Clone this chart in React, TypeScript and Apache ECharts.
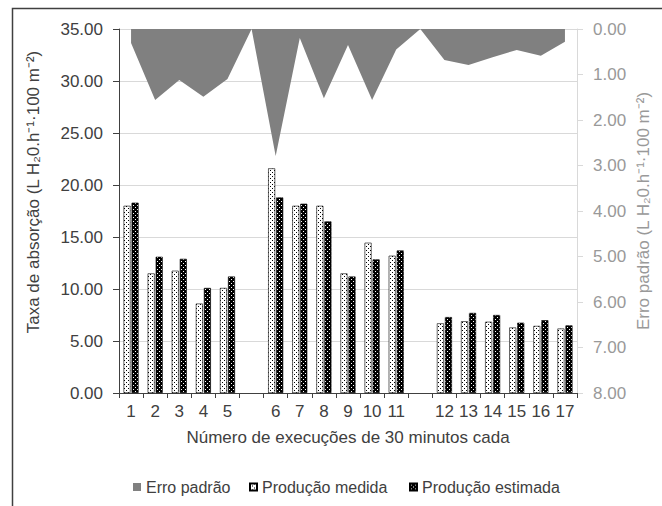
import React, { useEffect, useRef } from "react";
import * as echarts from "echarts";

const categories = ["1", "2", "3", "4", "5", " ", "6", "7", "8", "9", "10", "11", "  ", "12", "13", "14", "15", "16", "17"];
const erroPadrao = [0.31, 1.56, 1.12, 1.49, 1.1, 0, 2.79, 0.2, 1.52, 0.35, 1.56, 0.45, 0, 0.68, 0.79, 0.62, 0.46, 0.59, 0.28];
const producaoMedida = [18.0, 11.5, 11.76, 8.6, 10.1, null, 21.6, 18.0, 18.0, 11.5, 14.45, 13.2, null, 6.7, 6.9, 6.85, 6.3, 6.45, 6.2];
const producaoEstimada = [18.3, 13.1, 12.9, 10.1, 11.2, null, 18.8, 18.2, 16.5, 11.2, 12.85, 13.7, null, 7.3, 7.7, 7.5, 6.76, 7.0, 6.5];
const leftTicks = { min: 0, max: 35, interval: 5 };
const rightTicks = { min: 0, max: 8, interval: 1 };

const FONT = '"Liberation Sans", Arial, sans-serif';

function makePattern(bg: string, fg: string, pts: number[][]) {
  const c = document.createElement("canvas");
  c.width = 4;
  c.height = 4;
  const ctx = c.getContext("2d")!;
  ctx.fillStyle = bg;
  ctx.fillRect(0, 0, 4, 4);
  ctx.fillStyle = fg;
  pts.forEach(([x, y]) => ctx.fillRect(x, y, 1, 1));
  return c;
}

export default function App() {
  const ref = useRef<HTMLDivElement>(null);
  useEffect(() => {
    if (!ref.current) return;
    const chart = echarts.init(ref.current, undefined, { renderer: "svg" });
    const medidaPat = makePattern("#ffffff", "#000000", [[0, 0], [2, 2]]);
    const estimadaPat = makePattern("#000000", "#ffffff", [[1, 1], [3, 3]]);
    const legendBase = {
      orient: "horizontal",
      top: 479,
      padding: 0,
      icon: "rect",
      itemWidth: 7,
      itemHeight: 7,
      textStyle: { fontFamily: FONT, fontSize: 16, color: "#404040" },
    };
    chart.setOption({
      animation: false,
      textStyle: { fontFamily: FONT },
      grid: { left: 119, right: 85, top: 29, bottom: 113, containLabel: false },
      legend: [
        { ...legendBase, left: 133, itemWidth: 8, itemHeight: 8, data: ["Erro padrão"] },
        { ...legendBase, left: 249, data: ["Produção medida"] },
        { ...legendBase, left: 409, data: ["Produção estimada"] },
      ],
      xAxis: {
        type: "category",
        data: categories,
        boundaryGap: true,
        axisLine: { lineStyle: { color: "#404040", width: 1 } },
        axisTick: { show: true, length: 5, lineStyle: { color: "#404040" } },
        axisLabel: { fontSize: 17, color: "#404040", margin: 10, interval: 0 },
        name: "Número de execuções de 30 minutos cada",
        nameLocation: "middle",
        nameGap: 36,
        nameTextStyle: { fontSize: 17, color: "#404040", fontFamily: FONT },
      },
      yAxis: [
        {
          type: "value",
          min: leftTicks.min,
          max: leftTicks.max,
          interval: leftTicks.interval,
          position: "left",
          axisLine: { show: true, lineStyle: { color: "#404040" } },
          axisTick: { show: true, length: 6, lineStyle: { color: "#404040" } },
          axisLabel: { fontSize: 17, color: "#404040", margin: 16, formatter: (v: number) => v.toFixed(2) },
          splitLine: { show: true, lineStyle: { color: "#d9d9d9", width: 1 } },
        },
        {
          type: "value",
          min: rightTicks.min,
          max: rightTicks.max,
          interval: rightTicks.interval,
          inverse: true,
          position: "right",
          axisLine: { show: true, lineStyle: { color: "#d9d9d9" } },
          axisTick: { show: true, length: 6, lineStyle: { color: "#d9d9d9" } },
          axisLabel: { fontSize: 17, color: "#999999", margin: 16, formatter: (v: number) => v.toFixed(2) },
          splitLine: { show: false },
        },
      ],
      graphic: [
        {
          type: "rect",
          shape: { x: 12.5, y: 8.5, width: 700, height: 600 },
          style: { fill: "none", stroke: "#404040", lineWidth: 1.5 },
          silent: true,
        },
        {
          type: "text",
          x: 33,
          y: 192,
          rotation: Math.PI / 2,
          style: {
            text: "Taxa de absorção (L H₂0.h⁻¹·100 m⁻²)",
            fontSize: 17,
            fontFamily: FONT,
            fill: "#404040",
            align: "center",
            verticalAlign: "middle",
          },
        },
        {
          type: "text",
          x: 643,
          y: 211,
          rotation: Math.PI / 2,
          style: {
            text: "Erro padrão (L H₂0.h⁻¹·100 m⁻²)",
            fontSize: 17,
            fontFamily: FONT,
            fill: "#999999",
            align: "center",
            verticalAlign: "middle",
          },
        },
      ],
      series: [
        {
          name: "Erro padrão",
          type: "line",
          yAxisIndex: 1,
          data: erroPadrao,
          symbol: "none",
          lineStyle: { width: 0, color: "#808080" },
          itemStyle: { color: "#808080" },
          areaStyle: { color: "#808080", opacity: 1 },
          z: 1,
        },
        {
          name: "Produção medida",
          type: "bar",
          yAxisIndex: 0,
          data: producaoMedida,
          barWidth: 7,
          barGap: "15%",
          itemStyle: {
            color: { image: medidaPat, repeat: "repeat", imageWidth: 4, imageHeight: 4 },
            borderColor: "#000000",
            borderWidth: 0.6,
          },
          z: 2,
        },
        {
          name: "Produção estimada",
          type: "bar",
          yAxisIndex: 0,
          data: producaoEstimada,
          barWidth: 7,
          barGap: "15%",
          itemStyle: {
            color: { image: estimadaPat, repeat: "repeat", imageWidth: 4, imageHeight: 4 },
            borderColor: "#000000",
            borderWidth: 0.6,
          },
          z: 2,
        },
      ],
    });
    return () => chart.dispose();
  }, []);
  return (
    <div
      ref={ref}
      style={{ position: "fixed", left: 0, top: 0, width: 662, height: 506, background: "#ffffff" }}
    />
  );
}
